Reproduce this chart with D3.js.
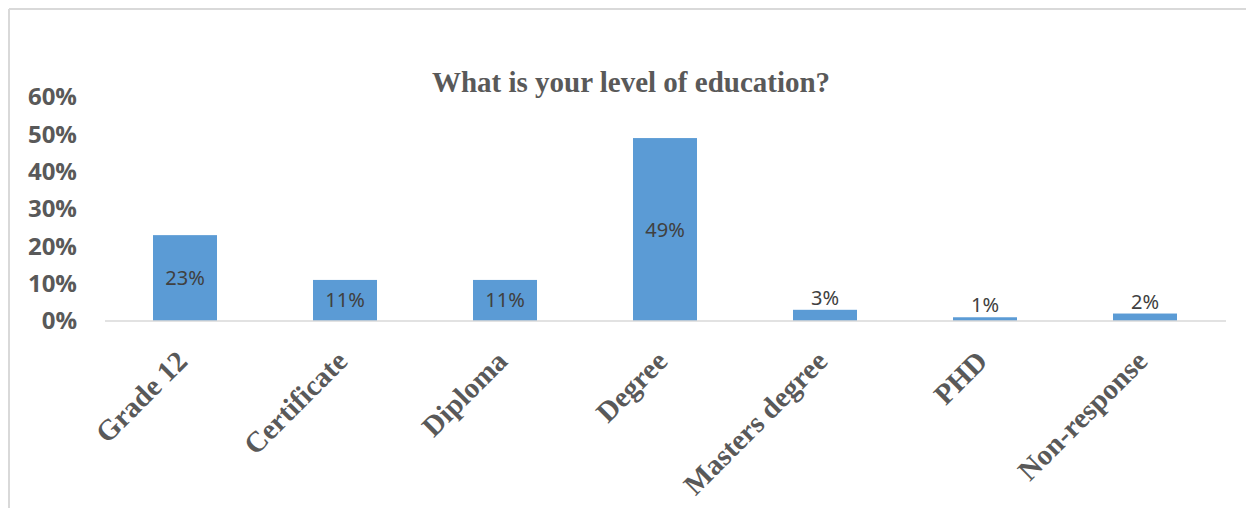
<!DOCTYPE html>
<html>
<head>
<meta charset="utf-8">
<script src="https://cdn.jsdelivr.net/npm/d3@7"></script>
<style>
  html, body { margin: 0; padding: 0; background: #fff; }
  svg { display: block; }
</style>
</head>
<body>
<svg id="chart" width="1246" height="508"></svg>
<script>
// Survey responses: highest level of education
const categories = ["Grade 12", "Certificate", "Diploma", "Degree", "Masters degree", "PHD", "Non-response"];
const shares = [0.23, 0.11, 0.11, 0.49, 0.03, 0.01, 0.02];
const yTicks = [0, 0.1, 0.2, 0.3, 0.4, 0.5, 0.6];
const title = "What is your level of education?";

const svg = d3.select("#chart");
const W = 1246, H = 508;

// Frame (top and left edges visible)
svg.append("line").attr("x1", 9).attr("x2", W).attr("y1", 9).attr("y2", 9)
  .attr("stroke", "#d9d9d9").attr("stroke-width", 2);
svg.append("line").attr("x1", 9).attr("x2", 9).attr("y1", 9).attr("y2", H)
  .attr("stroke", "#d9d9d9").attr("stroke-width", 2);

const x = d3.scaleBand().domain(categories).range([105, 1225])
  .paddingInner(0.6).paddingOuter(0.3);
const y = d3.scaleLinear().domain([0, 0.6]).range([321, 97]);

// Title
svg.append("text")
  .attr("x", 631).attr("y", 92)
  .attr("text-anchor", "middle")
  .attr("font-family", "'Liberation Serif', 'Times New Roman', serif")
  .attr("font-weight", "bold").attr("font-size", 29)
  .attr("fill", "#595959")
  .text(title);

// Y axis labels
const yAxis = d3.axisLeft(y).tickValues(yTicks).tickFormat(d3.format(".0%")).tickSize(0).tickPadding(0);
const yg = svg.append("g").attr("transform", "translate(77,0)").call(yAxis);
yg.select(".domain").remove();
yg.selectAll("text")
  .attr("font-family", "'Open Sans', 'Noto Sans', sans-serif")
  .attr("font-weight", "bold").attr("font-size", 24)
  .attr("fill", "#595959");

// Bars
svg.append("g").selectAll("rect").data(categories).join("rect")
  .attr("x", d => x(d))
  .attr("width", x.bandwidth())
  .attr("y", (d, i) => y(shares[i]))
  .attr("height", (d, i) => y(0) - y(shares[i]))
  .attr("fill", "#5b9bd5");

// Baseline
svg.append("line").attr("x1", 105).attr("x2", 1226).attr("y1", y(0)).attr("y2", y(0))
  .attr("stroke", "#d9d9d9").attr("stroke-width", 1.5);

// Value labels: centred in tall bars, above short ones
const fmt = d3.format(".0%");
svg.append("g").selectAll("text").data(categories).join("text")
  .attr("x", d => x(d) + x.bandwidth() / 2)
  .attr("y", (d, i) => {
    const v = shares[i];
    if (v >= 0.1) return (y(v) + y(0)) / 2;
    return y(v) - 5;
  })
  .attr("dy", (d, i) => shares[i] >= 0.1 ? "0.35em" : 0)
  .attr("text-anchor", "middle")
  .attr("font-family", "'Noto Sans', 'Open Sans', sans-serif")
  .attr("font-size", 20)
  .attr("fill", "#404040")
  .text((d, i) => fmt(shares[i]));

// X axis labels, rotated
const xAxis = d3.axisBottom(x).tickSize(0).tickPadding(0);
const xg = svg.append("g").attr("transform", `translate(0,${y(0)})`).call(xAxis);
xg.select(".domain").remove();
xg.selectAll("text")
  .attr("font-family", "'Liberation Serif', 'Times New Roman', serif")
  .attr("font-weight", "bold").attr("font-size", 29)
  .attr("fill", "#595959")
  .attr("text-anchor", "end")
  .attr("dy", 0)
  .attr("transform", "translate(4,42) rotate(-45)");
</script>
</body>
</html>
